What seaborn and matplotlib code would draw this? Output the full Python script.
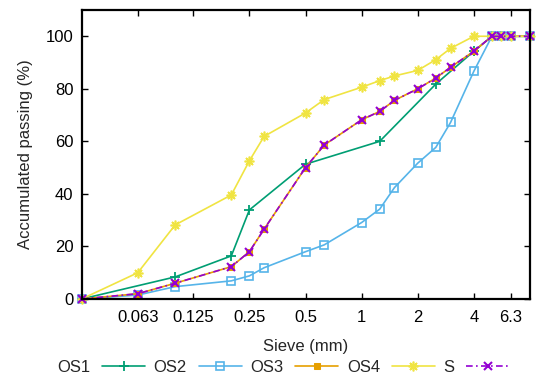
import matplotlib
matplotlib.use("Agg")
import matplotlib.pyplot as plt
import seaborn as sns

# sieve sizes (mm); first entry is the pan, drawn on the left border
sieve = [0.0315, 0.063, 0.1, 0.2, 0.25, 0.3, 0.5, 0.63, 1, 1.25, 1.5, 2, 2.5, 3, 4, 5, 5.6, 6.3, 8]

os1_sieve = [0.0315, 0.1, 0.2, 0.25, 0.5, 1.25, 2.5, 4, 5, 5.6, 6.3, 8]
os1 = [0, 8.4, 16.4, 33.9, 51.3, 60, 81.8, 94.3, 100, 100, 100, 100]
os2 = [0, 1.5, 4.7, 6.9, 8.8, 11.9, 18, 20.6, 29.1, 34.2, 42.4, 51.7, 57.7, 67.2, 86.7, 100, 100, 100, 100]
os3 = [0, 2, 6, 12.3, 18, 26.6, 50, 58.6, 68.2, 71.4, 75.6, 80, 84.1, 88.2, 94.3, 100, 100, 100, 100]
os4 = [0, 10, 28.2, 39.6, 52.6, 61.9, 70.8, 75.9, 80.6, 83.1, 84.9, 87, 91.1, 95.4, 100, 100, 100, 100, 100]
s = [0, 2, 6, 12.3, 18, 26.6, 50, 58.6, 68.2, 71.4, 75.6, 80, 84.1, 88.2, 94.3, 100, 100, 100, 100]

xticks = [0.063, 0.125, 0.25, 0.5, 1, 2, 4, 6.3]
xtick_labels = ["0.063", "0.125", "0.25", "0.5", "1", "2", "4", "6.3"]
yticks = [0, 20, 40, 60, 80, 100]

sns.set_style("ticks")
plt.rcParams["font.family"] = ["Liberation Sans", "DejaVu Sans"]
FS = 12

fig = plt.figure(figsize=(5.5, 3.8), dpi=100)
ax = fig.add_axes([0.1485, 0.2132, 0.8151, 0.7605])

common = dict(linewidth=1.2, clip_on=False, ax=ax, sort=False, estimator=None)

sns.lineplot(x=os1_sieve, y=os1, color="#009e73", marker="+", markersize=7,
             markeredgecolor="#009e73", markeredgewidth=1.3, label="OS1", **common)
sns.lineplot(x=sieve, y=os2, color="#56b4e9", marker="s", markersize=6,
             markerfacecolor="none", markeredgecolor="#56b4e9",
             markeredgewidth=1.2, label="OS2", **common)
sns.lineplot(x=sieve, y=os3, color="#e69f00", marker="s", markersize=5,
             markeredgecolor="#e69f00", label="OS3", **common)
sns.lineplot(x=sieve, y=os4, color="#f0e442", marker=(8, 2, 0), markersize=7,
             markeredgecolor="#f0e442", markeredgewidth=1.2, label="OS4", **common)
sns.lineplot(x=sieve, y=s, color="#9400d3", marker="x", markersize=6,
             markeredgecolor="#9400d3", markeredgewidth=1.5, label="S",
             linestyle=(0, (4, 2, 1, 2)), **common)

ax.set_xscale("log")
ax.set_xlim(0.0315, 8)
ax.set_ylim(0, 110)
ax.set_xticks(xticks)
ax.set_xticklabels(xtick_labels)
ax.minorticks_off()
ax.set_yticks(yticks)

ax.tick_params(direction="in", top=True, right=True, length=4.5, width=1.0,
               labelsize=FS, colors="black")
ax.tick_params(axis="x", pad=8)
ax.tick_params(axis="y", pad=6)
for sp in ax.spines.values():
    sp.set_linewidth(1.6)
    sp.set_color("black")

ax.set_xlabel("Sieve (mm)", fontsize=FS, labelpad=10)
ax.set_ylabel("Accumulated passing (%)", fontsize=FS, labelpad=9)

handles, labels = ax.get_legend_handles_labels()
ax.get_legend().remove()
fig.legend(handles, labels, loc="center", bbox_to_anchor=(0.515, 1 - 367 / 380),
           ncol=5, frameon=False, markerfirst=False, handlelength=2.6,
           handletextpad=0.7, columnspacing=0.5, fontsize=FS, borderpad=0)

fig.savefig("out.png", dpi=100)
